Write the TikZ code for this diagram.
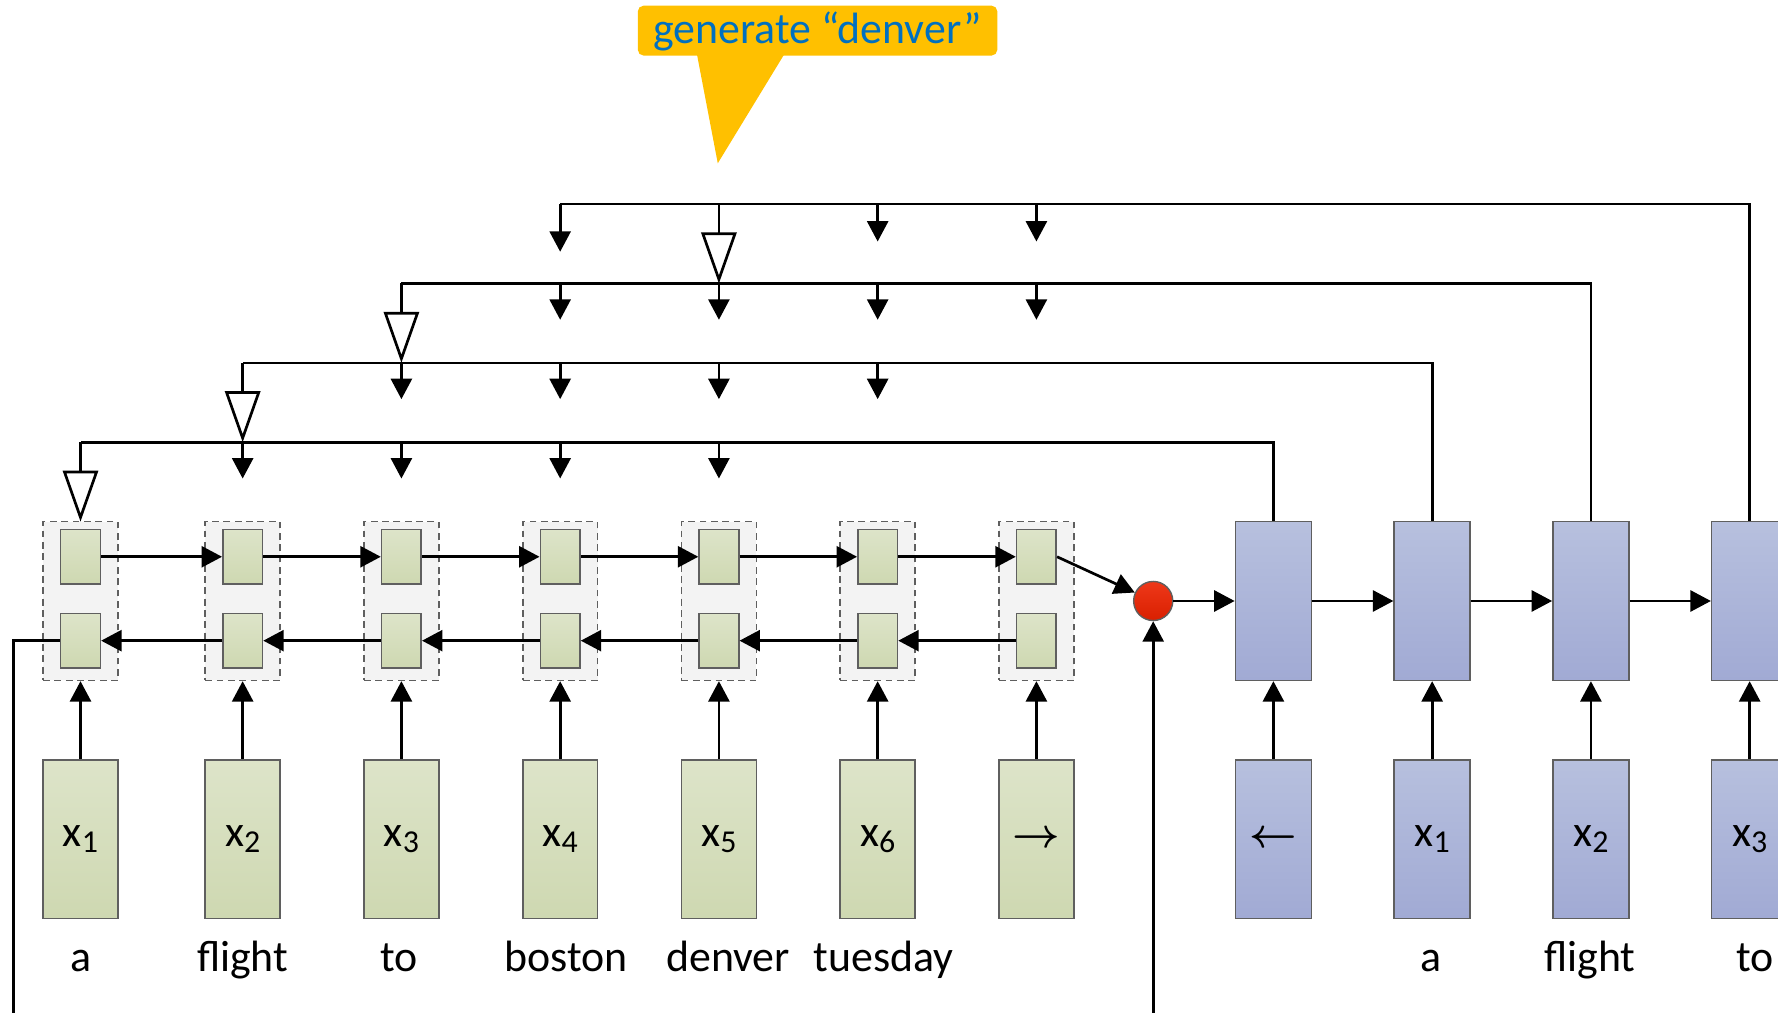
\documentclass[tikz,border=0pt]{standalone}
\usepackage{bm}
\usepackage{fontspec}
\setmainfont{Carlito}
\usetikzlibrary{arrows.meta}

\definecolor{encTop}{RGB}{221,228,201}
\definecolor{encBot}{RGB}{206,216,177}
\definecolor{decTop}{RGB}{183,192,222}
\definecolor{decBot}{RGB}{161,170,212}
\definecolor{cellBg}{RGB}{243,243,243}
\definecolor{boxLine}{RGB}{95,95,95}
\definecolor{hintFill}{RGB}{255,192,0}
\definecolor{hintText}{RGB}{0,112,192}
\definecolor{mixRed}{RGB}{236,34,0}

% x with a lowered index
\newcommand\xsub[1]{x\raisebox{-3.3pt}{\fontsize{16}{16}\selectfont #1}}
% arrows used as start tokens
\newcommand\tokarrow[1]{{\fontsize{20}{20}\selectfont$\bm{#1}$}}

\tikzset{
    enc/.style={draw=boxLine, line width=0.8pt, top color=encTop, bottom color=encBot, inner sep=0pt},
    dec/.style={draw=boxLine, line width=0.8pt, top color=decTop, bottom color=decBot, inner sep=0pt},
    tall/.style={minimum width=13.2mm, minimum height=28mm},
    small/.style={minimum width=7mm, minimum height=9.6mm},
    cell/.style={draw=boxLine, fill=cellBg, line width=0.8pt, dash pattern=on 1.2mm off 0.8mm,
                 minimum width=13.2mm, minimum height=28mm, inner sep=0pt},
    word/.style={anchor=base, inner sep=0pt},
    conn/.style={line width=1.35pt},
    arr/.style={conn, -{Triangle[length=3.6mm, width=3.7mm]}},
    opn/.style={conn, -{Triangle[open, length=9mm, width=6.2mm]}},
}

\begin{document}
\begin{tikzpicture}[x=0.2mm, y=-0.2mm, font=\fontsize{22}{26}\selectfont]
    \useasboundingbox (0,0) rectangle (1568,893);

    % encoder: dashed cells with forward/backward states
    \foreach \c/\lab [count=\i] in {71/\xsub1, 214/\xsub2, 354/\xsub3, 494/\xsub4,
                                    634/\xsub5, 774/\xsub6, 914/\tokarrow\rightarrow} {
        \node[cell] (cell\i) at (\c,530) {};
        \node[enc, small] (fw\i) at (\c,491) {};
        \node[enc, small] (bw\i) at (\c,565) {};
        \node[enc, tall] (in\i) at (\c,740) {\lab};
        \draw[arr] (in\i) -- (cell\i);
    }
    \foreach \i [evaluate=\i as \j using int(\i+1)] in {1,...,6} {
        \draw[arr] (fw\i.east) -- (fw\j.west);
        \draw[arr] (bw\j.west) -- (bw\i.east);
    }

    \node[word] (w1) at (71,857) {a};
    \node[word] (w2) at (214,857) {flight};
    \node[word] (w3) at (352,857) {to};
    \node[word] (w4) at (499,857) {boston};
    \node[word] (w5) at (642,857) {denver};
    \node[word] (w6) at (779,857) {tuesday};

    % mixing point
    \node[circle, draw=boxLine, line width=0.7pt, top color=mixRed!90!white, bottom color=mixRed!92!black,
          minimum size=6.9mm, inner sep=0pt] (mix) at (1017,530) {};
    \draw[arr] (fw7.east) -- (mix);
    \coordinate (loopL) at (12,900);
    \coordinate (loopR) at (1017,900);
    \draw[conn] (bw1.west) -| (loopL);
    \draw[arr] (loopR) -- (mix.south);

    % decoder
    \foreach \c/\lab [count=\i] in {1123/\tokarrow\leftarrow, 1263/\xsub1, 1403/\xsub2, 1543/\xsub3} {
        \node[dec, minimum width=13.4mm, minimum height=28mm] (dec\i) at (\c,530) {};
        \node[dec, minimum width=13.4mm, minimum height=28mm] (din\i) at (\c,740) {\lab};
        \draw[arr] (din\i) -- (dec\i);
    }
    \draw[arr] (mix) -- (dec1.west);
    \foreach \i [evaluate=\i as \j using int(\i+1)] in {1,2,3}
        \draw[arr] (dec\i.east) -- (dec\j.west);

    \node[word] (v2) at (1262,857) {a};
    \node[word] (v3) at (1402,857) {flight};
    \node[word] (v4) at (1548,857) {to};

    % attention levels
    \coordinate (lv0) at (0,460);
    \coordinate (lv1) at (0,390);
    \coordinate (lv2) at (0,320);
    \coordinate (lv3) at (0,250);
    \coordinate (lv4) at (0,180);
    \foreach \k/\p/\a/\b in {1/0/2/5, 2/1/3/6, 3/2/4/7} {
        \draw[conn] (dec\k.north) |- (cell\k.north |- lv\k);
        \draw[opn] (cell\k.north |- lv\k) -- (cell\k.north |- lv\p);
        \foreach \i in {\a,...,\b}
            \draw[arr] (cell\i.north |- lv\k) -- ++(0,32);
    }
    \draw[conn] (dec4.north) |- (cell4.north |- lv4);
    \draw[arr] (cell4.north |- lv4) -- ++(0,42);
    \draw[opn] (cell5.north |- lv4) -- (cell5.north |- lv3);
    \foreach \i in {6,7}
        \draw[arr] (cell\i.north |- lv4) -- ++(0,33);

    % speech bubble
    \node[fill=hintFill, rounded corners=1mm, minimum width=63.4mm, inner ysep=0pt,
          text height=6.6mm, text depth=2.2mm, text=hintText] (gen) at (721,27) {generate ``denver''};
    \coordinate (tip) at (633,144);
    \fill[hintFill] (gen.south west) ++(52,-4) -- (tip) -- ([xshift=131*0.2mm, yshift=0.8mm]gen.south west) -- cycle;
\end{tikzpicture}
\end{document}
